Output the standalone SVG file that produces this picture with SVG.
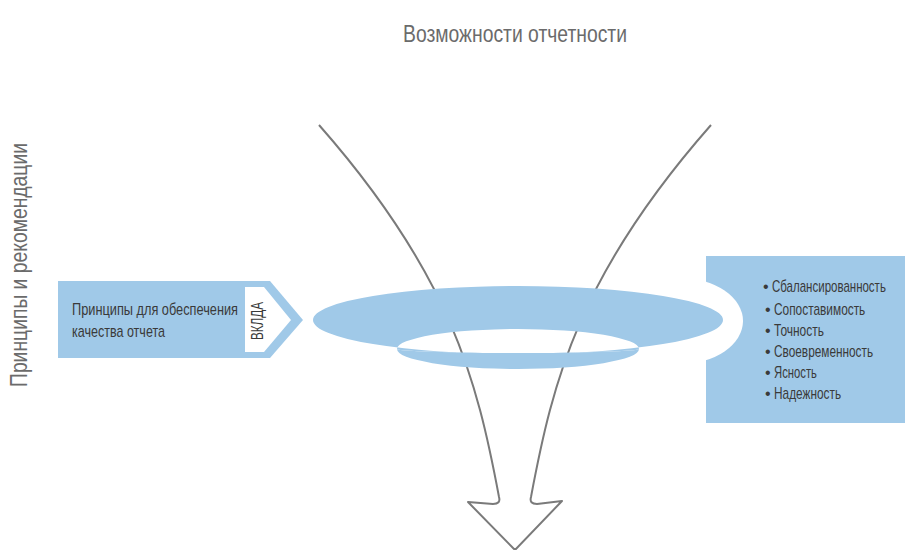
<svg xmlns="http://www.w3.org/2000/svg" width="905" height="550" viewBox="0 0 905 550">
  <style>
    .lbl { font-family: "Liberation Sans", Arial, sans-serif; fill: #3a3a3a; }
    .head { font-family: "Liberation Sans", Arial, sans-serif; fill: #6b6b6b; font-size: 24px; }
    .blue { fill: #a0c9e8; }
    .wire { fill: none; stroke: #7a7a7a; stroke-width: 2; stroke-linejoin: round; }
  </style>

  <rect width="905" height="550" fill="#ffffff"/>

  <!-- heading and side caption -->
  <g id="title">
    <text class="head" x="403" y="42" textLength="224" lengthAdjust="spacingAndGlyphs">Возможности отчетности</text>
  </g>
  <g id="side-caption">
    <text class="head" transform="translate(27,387) rotate(-90)" textLength="244" lengthAdjust="spacingAndGlyphs">Принципы и рекомендации</text>
  </g>

  <!-- qualities panel on the right -->
  <g id="qualities">
    <rect class="blue" x="706" y="256" width="199" height="167"/>
    <ellipse cx="680" cy="321" rx="63" ry="43" fill="#ffffff"/>
    <g class="lbl" font-size="16">
      <text x="763" y="292">•</text>
      <text x="765" y="315">•</text>
      <text x="765" y="336">•</text>
      <text x="765" y="357">•</text>
      <text x="765" y="378">•</text>
      <text x="765" y="399">•</text>
    </g>
    <!-- narrow lettering: horizontally squeezed -->
    <g class="lbl" font-size="16" transform="translate(772,0) scale(0.78,1)">
      <text x="0" y="292" textLength="146" lengthAdjust="spacingAndGlyphs">Сбалансированность</text>
      <text x="2.6" y="315" textLength="117" lengthAdjust="spacingAndGlyphs">Сопоставимость</text>
      <text x="2.6" y="336" textLength="64" lengthAdjust="spacingAndGlyphs">Точность</text>
      <text x="2.6" y="357" textLength="127" lengthAdjust="spacingAndGlyphs">Своевременность</text>
      <text x="2.6" y="378" textLength="55" lengthAdjust="spacingAndGlyphs">Ясность</text>
      <text x="2.6" y="399" textLength="86" lengthAdjust="spacingAndGlyphs">Надежность</text>
    </g>
  </g>

  <!-- funnel outline ending in a downward arrow -->
  <g id="connectors">
    <path class="wire" d="M319,125 C451,275 477,380 499,497 Q501,504 493,504 L468,502 L515,550 L562,501 L537,504 Q529,504 531,497 C553,380 579,275 711,125"/>
  </g>

  <!-- ring the funnel passes through: top face with an open hole, plus the inner wall -->
  <g id="ring">
    <path class="blue" fill-rule="evenodd" d="M313,320 A205,34 0 0 1 723,320 A205,34 0 0 1 313,320 Z M397,349 A121,20 0 0 1 639,349 A121,4 0 0 1 397,349 Z"/>
    <path class="blue" d="M397,349 A121,4 0 0 0 639,349 A121,20 0 0 1 397,349 Z"/>
  </g>

  <!-- input principles arrow on the left -->
  <g id="principles">
    <polygon class="blue" points="58,281 270,281 303,320 270,358 58,358"/>
    <polygon fill="#ffffff" points="245,287 264,287 291,320 264,352 245,352"/>
    <text class="lbl" font-size="17" x="72" y="315" textLength="166" lengthAdjust="spacingAndGlyphs">Принципы для обеспечения</text>
    <text class="lbl" font-size="17" x="72" y="337" textLength="93" lengthAdjust="spacingAndGlyphs">качества отчета</text>
    <text class="lbl" font-size="16" transform="translate(263,340) rotate(-90)" textLength="38" lengthAdjust="spacingAndGlyphs">ВКЛДА</text>
  </g>
</svg>
